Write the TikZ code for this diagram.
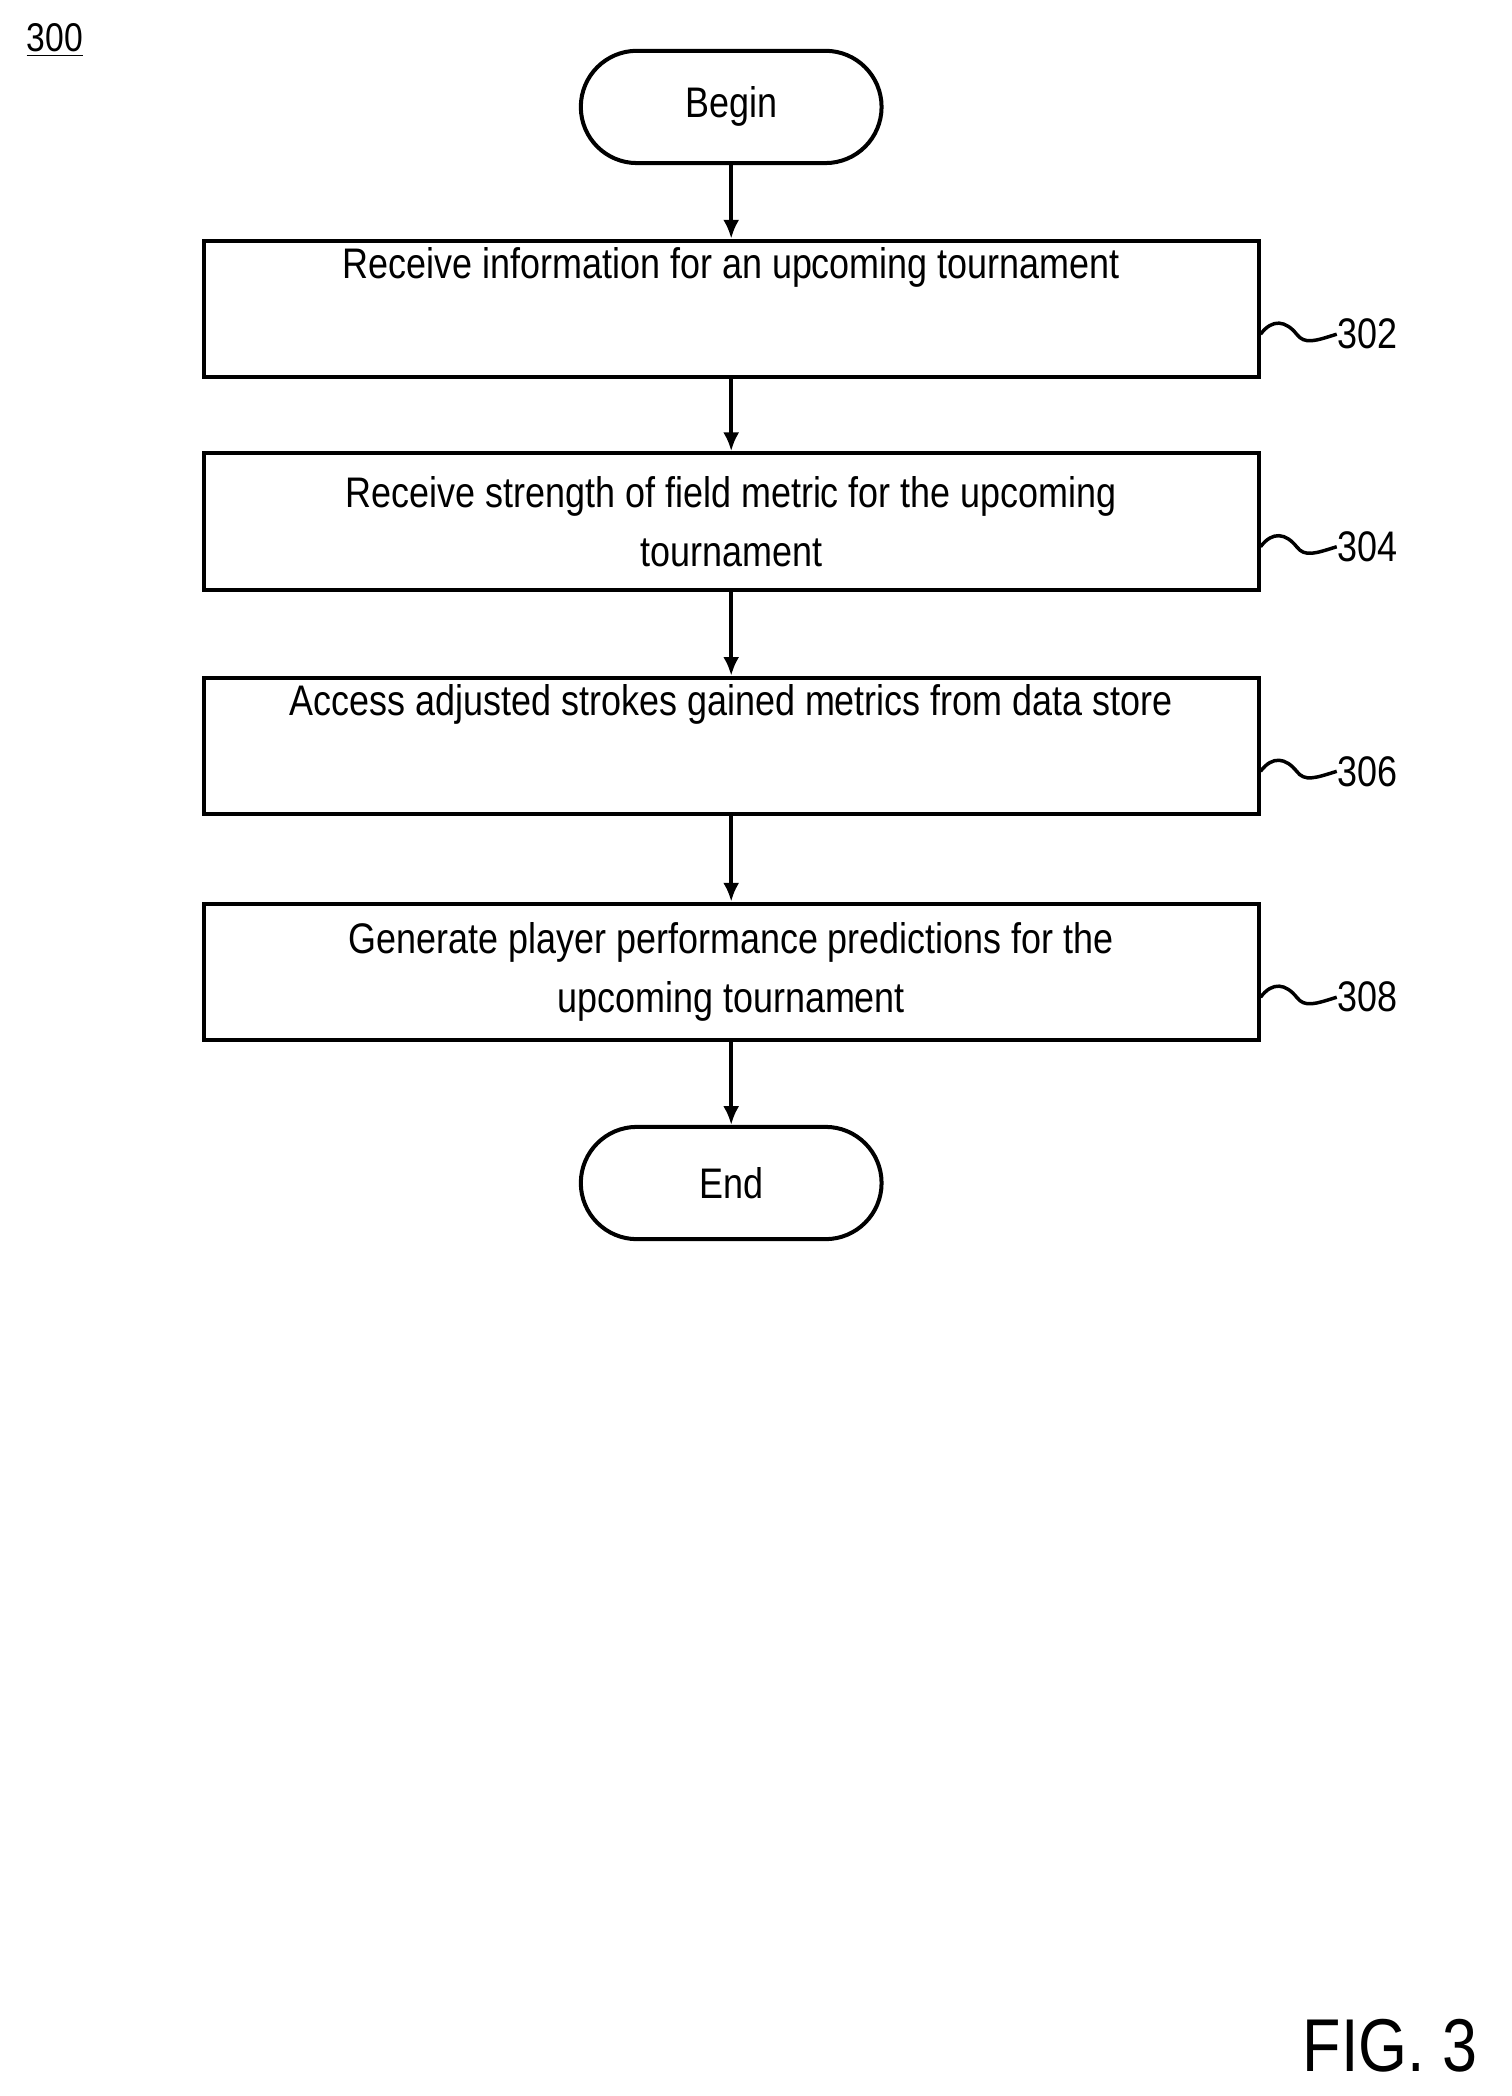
\documentclass[tikz,border=0pt]{standalone}
\usetikzlibrary{arrows.meta}
\usepackage{fontspec}
\setmainfont{Liberation Sans}[FakeStretch=0.84]
\begin{document}
\begin{tikzpicture}[x=0.5pt,y=-0.5pt,
  box/.style={draw,line width=1.5pt,minimum width=394.5pt,minimum height=51pt,align=center,font=\fontsize{16}{22}\selectfont,inner sep=0pt},
  term/.style={draw,line width=1.5pt,rounded corners=21pt,minimum width=112.5pt,minimum height=42pt,font=\fontsize{16}{20}\selectfont},
  arr/.style={-{Latex[length=7pt,width=6pt]},line width=1.3pt},
  lbl/.style={font=\fontsize{16}{20}\selectfont,anchor=west,inner sep=0pt}]
\useasboundingbox (0,0) rectangle (1131,1568);
\node[font=\fontsize{15}{18}\selectfont] (n300) at (41,30) {\underline{300}};
\node[term] (b) at (547,80) {Begin};
\node[box] (s302) at (547,231) {Receive information for an upcoming tournament\\[12pt]};
\node[box] (s304) at (547,390) {Receive strength of field metric for the upcoming\\tournament};
\node[box] (s306) at (547,558) {Access adjusted strokes gained metrics from data store\\[12pt]};
\node[box] (s308) at (547,727) {Generate player performance predictions for the\\upcoming tournament};
\node[term] (e) at (547,885) {End};
\draw[arr] (b) -- (s302);
\draw[arr] (s302) -- (s304);
\draw[arr] (s304) -- (s306);
\draw[arr] (s306) -- (s308);
\draw[arr] (s308) -- (e);
\foreach \n/\y in {302/250,304/409,306/577,308/746}{
  \node[lbl] (l\n) at (1000,\y) {\n};
  \draw[line width=1.3pt] (s\n.east |- 0,\y) .. controls (952,\y-12) and (962,\y-10) .. (970,\y) .. controls (976,\y+8) and (984,\y+5) .. (l\n.west);
}
\node[font=\fontsize{28}{32}\selectfont] (fig) at (1040,1530) {FIG. 3};
\end{tikzpicture}
\end{document}
